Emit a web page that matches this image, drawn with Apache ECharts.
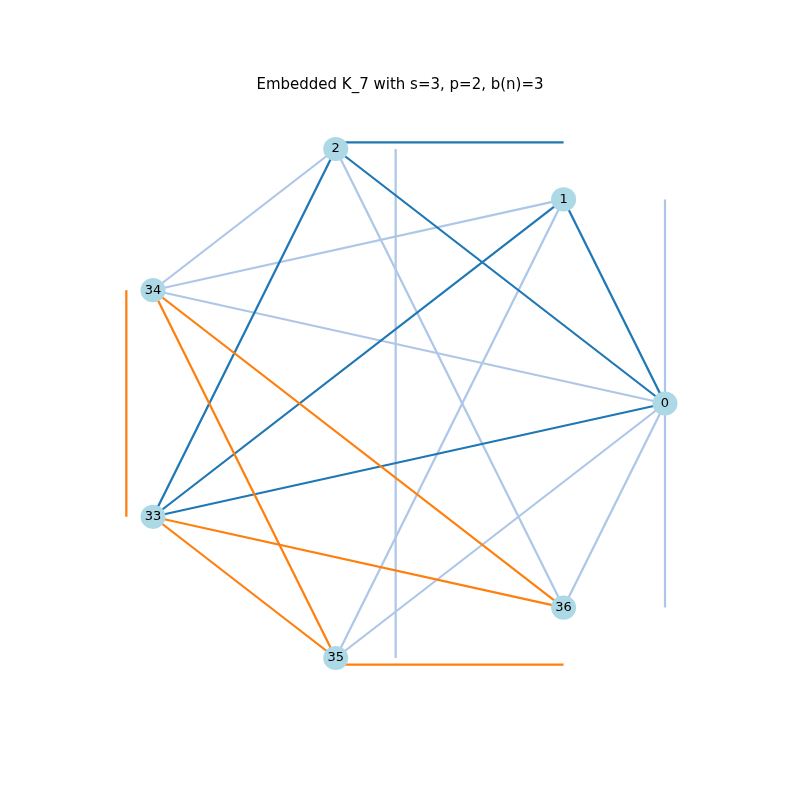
<!DOCTYPE html>
<html>
<head>
<meta charset="UTF-8">
<script src="https://cdn.jsdelivr.net/npm/echarts@6/dist/echarts.min.js"></script>
</head>
<body style="margin:0">
<div id="main" style="width:800px;height:800px"></div>
<script>
// nodes in counter-clockwise order starting from the right
var nodeNames = ['0', '1', '2', '34', '33', '35', '36'];
var darkEdges = [['2','1'],['2','0'],['1','0'],['2','33'],['1','33'],['0','33']];
var lightEdges = [['2','34'],['34','1'],['34','0'],['2','35'],['2','36'],['1','35'],['1','36'],['0','35'],['0','36']];
var orangeEdges = [['34','33'],['34','35'],['34','36'],['33','36'],['33','35'],['35','36']];

var chart = echarts.init(document.getElementById('main'));
var nodes = nodeNames.map(function (n, i) {
    var a = 2 * Math.PI * i / nodeNames.length;
    return { name: 'n' + n, value: n, x: Math.cos(a), y: -Math.sin(a) };
});
var links = [];
function addEdges(list, color) {
    list.forEach(function (e) {
        links.push({
            source: nodeNames.indexOf(e[0]),
            target: nodeNames.indexOf(e[1]),
            lineStyle: { color: color }
        });
    });
}
addEdges(lightEdges, '#aec7e8');
addEdges(darkEdges, '#1f77b4');
addEdges(orangeEdges, '#ff7f0e');

chart.setOption({
    animation: false,
    title: {
        text: 'Embedded K_7 with s=3, p=2, b(n)=3',
        left: 'center', top: 73,
        textStyle: { fontSize: 15, fontWeight: 'normal', color: '#000', fontFamily: 'DejaVu Sans' }
    },
    series: [{
        type: 'graph',
        layout: 'none',
        left: 153, top: 149, width: 512, height: 509,
        symbolSize: 25,
        itemStyle: { color: '#add8e6' },
        label: {
            show: true, position: 'inside', color: '#000', fontSize: 13, fontFamily: 'DejaVu Sans',
            formatter: function (p) { return p.value; }
        },
        lineStyle: { width: 2.2, opacity: 1 },
        data: nodes,
        links: links
    }]
});
</script>
</body>
</html>
